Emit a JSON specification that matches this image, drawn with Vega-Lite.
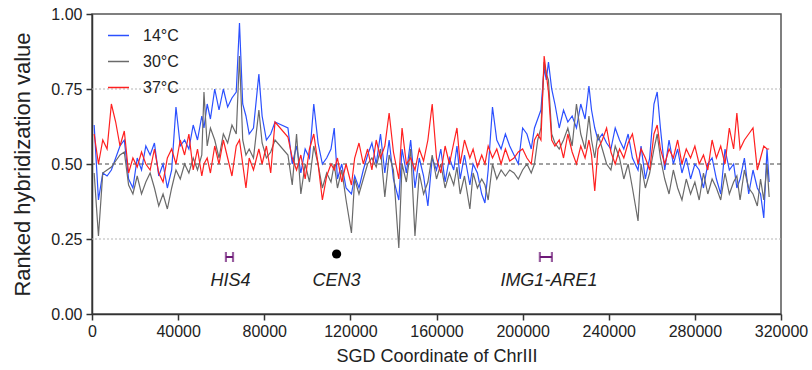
{
  "$schema": "https://vega.github.io/schema/vega-lite/v6.json",
  "width": 689,
  "height": 300,
  "autosize": {"type": "none"},
  "padding": {"left": 92, "top": 14, "right": 31, "bottom": 56},
  "background": "white",
  "config": {
    "view": {"stroke": "#555", "strokeWidth": 1.5},
    "font": "Liberation Sans",
    "axis": {
      "grid": false,
      "domainColor": "#333", "domainWidth": 1.5,
      "tickColor": "#333", "tickWidth": 1.5, "tickSize": 6,
      "labelColor": "#222", "labelFont": "Liberation Sans", "labelFontSize": 16,
      "titleColor": "#222", "titleFont": "Liberation Sans", "titleFontWeight": "normal"
    }
  },
  "datasets": {
    "signal": [
      {"pos":1000,"c14":0.63,"c30":0.47,"c37":0.60},
      {"pos":3000,"c14":0.38,"c30":0.26,"c37":0.50},
      {"pos":5000,"c14":0.47,"c30":0.47,"c37":0.58},
      {"pos":7000,"c14":0.46,"c30":0.48,"c37":0.55},
      {"pos":9000,"c14":0.48,"c30":0.49,"c37":0.70},
      {"pos":11000,"c14":0.52,"c30":0.51,"c37":0.64},
      {"pos":13000,"c14":0.56,"c30":0.53,"c37":0.56},
      {"pos":15000,"c14":0.58,"c30":0.54,"c37":0.61},
      {"pos":17000,"c14":0.45,"c30":0.43,"c37":0.47},
      {"pos":19000,"c14":0.42,"c30":0.40,"c37":0.52},
      {"pos":21000,"c14":0.52,"c30":0.46,"c37":0.49},
      {"pos":23000,"c14":0.48,"c30":0.40,"c37":0.54},
      {"pos":25000,"c14":0.56,"c30":0.44,"c37":0.50},
      {"pos":27000,"c14":0.53,"c30":0.47,"c37":0.48},
      {"pos":29000,"c14":0.57,"c30":0.42,"c37":0.55},
      {"pos":31000,"c14":0.46,"c30":0.36,"c37":0.47},
      {"pos":33000,"c14":0.50,"c30":0.40,"c37":0.44},
      {"pos":35000,"c14":0.42,"c30":0.35,"c37":0.52},
      {"pos":37000,"c14":0.48,"c30":0.42,"c37":0.55},
      {"pos":39000,"c14":0.69,"c30":0.48,"c37":0.50},
      {"pos":41000,"c14":0.56,"c30":0.45,"c37":0.58},
      {"pos":43000,"c14":0.58,"c30":0.50,"c37":0.53},
      {"pos":45000,"c14":0.55,"c30":0.47,"c37":0.60},
      {"pos":47000,"c14":0.63,"c30":0.52,"c37":0.48},
      {"pos":49000,"c14":0.58,"c30":0.48,"c37":0.55},
      {"pos":51000,"c14":0.66,"c30":0.53,"c37":0.46},
      {"pos":52000,"c14":0.62,"c30":0.74,"c37":0.50},
      {"pos":53500,"c14":0.70,"c30":0.56,"c37":0.52},
      {"pos":55000,"c14":0.65,"c30":0.62,"c37":0.47},
      {"pos":57000,"c14":0.75,"c30":0.58,"c37":0.56},
      {"pos":59000,"c14":0.68,"c30":0.52,"c37":0.50},
      {"pos":61000,"c14":0.75,"c30":0.60,"c37":0.58},
      {"pos":63000,"c14":0.69,"c30":0.57,"c37":0.52},
      {"pos":65000,"c14":0.72,"c30":0.63,"c37":0.46},
      {"pos":67000,"c14":0.74,"c30":0.60,"c37":0.56},
      {"pos":68500,"c14":0.97,"c30":0.86,"c37":0.58},
      {"pos":70000,"c14":0.70,"c30":0.58,"c37":0.50},
      {"pos":71500,"c14":0.66,"c30":0.53,"c37":0.42},
      {"pos":73000,"c14":0.60,"c30":0.55,"c37":0.52},
      {"pos":75000,"c14":0.62,"c30":0.52,"c37":0.48},
      {"pos":77500,"c14":0.80,"c30":0.68,"c37":0.55},
      {"pos":79000,"c14":0.66,"c30":0.57,"c37":0.50},
      {"pos":81000,"c14":0.58,"c30":0.52,"c37":0.56},
      {"pos":83000,"c14":0.60,"c30":0.54,"c37":0.47},
      {"pos":85000,"c14":0.64,"c30":0.58,"c37":0.64},
      {"pos":91000,"c14":0.62,"c30":0.53,"c37":0.59},
      {"pos":93000,"c14":0.50,"c30":0.43,"c37":0.52},
      {"pos":95000,"c14":0.56,"c30":0.60,"c37":0.48},
      {"pos":97000,"c14":0.47,"c30":0.40,"c37":0.53},
      {"pos":99000,"c14":0.55,"c30":0.50,"c37":0.45},
      {"pos":101000,"c14":0.52,"c30":0.44,"c37":0.55},
      {"pos":103000,"c14":0.70,"c30":0.56,"c37":0.60},
      {"pos":105000,"c14":0.57,"c30":0.50,"c37":0.50},
      {"pos":107000,"c14":0.50,"c30":0.42,"c37":0.38},
      {"pos":109000,"c14":0.52,"c30":0.47,"c37":0.46},
      {"pos":111000,"c14":0.55,"c30":0.44,"c37":0.50},
      {"pos":112500,"c14":0.62,"c30":0.50,"c37":0.48},
      {"pos":114000,"c14":0.45,"c30":0.42,"c37":0.52},
      {"pos":116000,"c14":0.50,"c30":0.48,"c37":0.44},
      {"pos":118000,"c14":0.42,"c30":0.38,"c37":0.50},
      {"pos":120500,"c14":0.40,"c30":0.27,"c37":0.43},
      {"pos":122000,"c14":0.46,"c30":0.45,"c37":0.52},
      {"pos":124000,"c14":0.42,"c30":0.40,"c37":0.57},
      {"pos":126000,"c14":0.48,"c30":0.45,"c37":0.50},
      {"pos":128000,"c14":0.53,"c30":0.50,"c37":0.55},
      {"pos":130000,"c14":0.57,"c30":0.52,"c37":0.48},
      {"pos":132000,"c14":0.50,"c30":0.49,"c37":0.58},
      {"pos":134000,"c14":0.60,"c30":0.55,"c37":0.52},
      {"pos":136000,"c14":0.47,"c30":0.39,"c37":0.56},
      {"pos":138000,"c14":0.58,"c30":0.53,"c37":0.67},
      {"pos":140000,"c14":0.45,"c30":0.48,"c37":0.54},
      {"pos":142500,"c14":0.38,"c30":0.22,"c37":0.45},
      {"pos":144000,"c14":0.55,"c30":0.50,"c37":0.62},
      {"pos":146000,"c14":0.47,"c30":0.44,"c37":0.50},
      {"pos":148000,"c14":0.58,"c30":0.55,"c37":0.52},
      {"pos":150000,"c14":0.42,"c30":0.26,"c37":0.48},
      {"pos":152000,"c14":0.52,"c30":0.47,"c37":0.55},
      {"pos":154000,"c14":0.46,"c30":0.40,"c37":0.51},
      {"pos":156000,"c14":0.36,"c30":0.44,"c37":0.58},
      {"pos":158000,"c14":0.52,"c30":0.53,"c37":0.70},
      {"pos":160000,"c14":0.48,"c30":0.45,"c37":0.52},
      {"pos":162000,"c14":0.55,"c30":0.50,"c37":0.47},
      {"pos":164000,"c14":0.44,"c30":0.42,"c37":0.56},
      {"pos":166000,"c14":0.52,"c30":0.47,"c37":0.50},
      {"pos":168000,"c14":0.48,"c30":0.43,"c37":0.57},
      {"pos":169500,"c14":0.56,"c30":0.49,"c37":0.62},
      {"pos":171000,"c14":0.45,"c30":0.40,"c37":0.50},
      {"pos":173000,"c14":0.53,"c30":0.46,"c37":0.58},
      {"pos":175500,"c14":0.43,"c30":0.35,"c37":0.52},
      {"pos":177000,"c14":0.50,"c30":0.47,"c37":0.55},
      {"pos":179000,"c14":0.47,"c30":0.42,"c37":0.49},
      {"pos":181000,"c14":0.40,"c30":0.45,"c37":0.53},
      {"pos":182500,"c14":0.37,"c30":0.43,"c37":0.50},
      {"pos":184000,"c14":0.48,"c30":0.38,"c37":0.56},
      {"pos":186000,"c14":0.69,"c30":0.50,"c37":0.52},
      {"pos":188000,"c14":0.58,"c30":0.45,"c37":0.55},
      {"pos":190000,"c14":0.55,"c30":0.48,"c37":0.50},
      {"pos":192000,"c14":0.60,"c30":0.46,"c37":0.55},
      {"pos":194000,"c14":0.56,"c30":0.48,"c37":0.51},
      {"pos":196000,"c14":0.53,"c30":0.47,"c37":0.52},
      {"pos":198000,"c14":0.50,"c30":0.45,"c37":0.54},
      {"pos":200000,"c14":0.62,"c30":0.48,"c37":0.55},
      {"pos":202000,"c14":0.60,"c30":0.50,"c37":0.52},
      {"pos":204000,"c14":0.55,"c30":0.47,"c37":0.50},
      {"pos":205500,"c14":0.62,"c30":0.50,"c37":0.58},
      {"pos":207000,"c14":0.65,"c30":0.58,"c37":0.60},
      {"pos":208500,"c14":0.68,"c30":0.62,"c37":0.58},
      {"pos":210000,"c14":0.82,"c30":0.84,"c37":0.86},
      {"pos":211000,"c14":0.78,"c30":0.80,"c37":0.80},
      {"pos":212000,"c14":0.84,"c30":0.78,"c37":0.74},
      {"pos":213500,"c14":0.75,"c30":0.60,"c37":0.58},
      {"pos":215000,"c14":0.70,"c30":0.57,"c37":0.56},
      {"pos":217000,"c14":0.62,"c30":0.55,"c37":0.58},
      {"pos":219000,"c14":0.68,"c30":0.58,"c37":0.52},
      {"pos":221000,"c14":0.64,"c30":0.62,"c37":0.60},
      {"pos":223000,"c14":0.66,"c30":0.56,"c37":0.54},
      {"pos":225000,"c14":0.62,"c30":0.70,"c37":0.50},
      {"pos":227000,"c14":0.70,"c30":0.60,"c37":0.56},
      {"pos":229000,"c14":0.65,"c30":0.55,"c37":0.52},
      {"pos":230800,"c14":0.76,"c30":0.66,"c37":0.58},
      {"pos":232000,"c14":0.68,"c30":0.58,"c37":0.53},
      {"pos":233500,"c14":0.62,"c30":0.52,"c37":0.41},
      {"pos":235000,"c14":0.58,"c30":0.60,"c37":0.55},
      {"pos":237000,"c14":0.60,"c30":0.55,"c37":0.58},
      {"pos":239000,"c14":0.57,"c30":0.50,"c37":0.62},
      {"pos":241000,"c14":0.55,"c30":0.48,"c37":0.54},
      {"pos":243000,"c14":0.62,"c30":0.56,"c37":0.50},
      {"pos":245000,"c14":0.58,"c30":0.52,"c37":0.55},
      {"pos":247000,"c14":0.55,"c30":0.45,"c37":0.52},
      {"pos":249000,"c14":0.60,"c30":0.50,"c37":0.57},
      {"pos":251000,"c14":0.52,"c30":0.42,"c37":0.60},
      {"pos":253600,"c14":0.48,"c30":0.31,"c37":0.50},
      {"pos":255000,"c14":0.56,"c30":0.50,"c37":0.55},
      {"pos":257000,"c14":0.45,"c30":0.42,"c37":0.52},
      {"pos":259000,"c14":0.52,"c30":0.47,"c37":0.48},
      {"pos":261000,"c14":0.70,"c30":0.55,"c37":0.60},
      {"pos":262500,"c14":0.74,"c30":0.60,"c37":0.63},
      {"pos":264000,"c14":0.62,"c30":0.52,"c37":0.55},
      {"pos":266000,"c14":0.48,"c30":0.45,"c37":0.50},
      {"pos":268000,"c14":0.58,"c30":0.40,"c37":0.55},
      {"pos":270000,"c14":0.50,"c30":0.48,"c37":0.52},
      {"pos":272000,"c14":0.55,"c30":0.42,"c37":0.58},
      {"pos":274000,"c14":0.47,"c30":0.38,"c37":0.50},
      {"pos":276000,"c14":0.52,"c30":0.45,"c37":0.55},
      {"pos":278000,"c14":0.45,"c30":0.40,"c37":0.52},
      {"pos":280000,"c14":0.50,"c30":0.44,"c37":0.56},
      {"pos":282000,"c14":0.48,"c30":0.38,"c37":0.50},
      {"pos":284000,"c14":0.42,"c30":0.47,"c37":0.53},
      {"pos":286000,"c14":0.50,"c30":0.40,"c37":0.48},
      {"pos":288000,"c14":0.52,"c30":0.45,"c37":0.58},
      {"pos":290000,"c14":0.45,"c30":0.42,"c37":0.52},
      {"pos":292000,"c14":0.40,"c30":0.38,"c37":0.56},
      {"pos":294000,"c14":0.55,"c30":0.47,"c37":0.50},
      {"pos":296000,"c14":0.48,"c30":0.40,"c37":0.62},
      {"pos":298000,"c14":0.50,"c30":0.44,"c37":0.55},
      {"pos":299500,"c14":0.42,"c30":0.46,"c37":0.67},
      {"pos":301000,"c14":0.45,"c30":0.38,"c37":0.55},
      {"pos":303000,"c14":0.52,"c30":0.48,"c37":0.58},
      {"pos":305000,"c14":0.40,"c30":0.42,"c37":0.60},
      {"pos":307000,"c14":0.48,"c30":0.40,"c37":0.62},
      {"pos":309000,"c14":0.42,"c30":0.36,"c37":0.48},
      {"pos":310500,"c14":0.40,"c30":0.45,"c37":0.52},
      {"pos":312000,"c14":0.32,"c30":0.38,"c37":0.56},
      {"pos":313500,"c14":0.55,"c30":0.50,"c37":0.55},
      {"pos":314500,"c14":0.44,"c30":0.39,"c37":0.55}
    ],
    "loci": [
      {"name":"HIS4","start":62200,"end":65500,"mark":0.19,"label":0.11,"center":64300},
      {"name":"IMG1-ARE1","start":208000,"end":213600,"mark":0.19,"label":0.11,"center":212200}
    ],
    "centromere": [
      {"name":"CEN3","pos":113600,"mark":0.2,"label":0.11}
    ],
    "guides": [
      {"level":0.25},{"level":0.75}
    ],
    "mid": [{"level":0.5}]
  },
  "layer": [
    {
      "data": {"name": "guides"},
      "mark": {"type": "rule", "color": "#b5b5b5", "strokeWidth": 1, "strokeDash": [2, 2]},
      "encoding": {"y": {"field": "level", "type": "quantitative", "title": "Ranked hybridization value"}}
    },
    {
      "data": {"name": "mid"},
      "mark": {"type": "rule", "color": "#444", "strokeWidth": 1, "strokeDash": [4, 3]},
      "encoding": {"y": {"field": "level", "type": "quantitative", "title": "Ranked hybridization value"}}
    },
    {
      "data": {"name": "signal"},
      "transform": [{"fold": ["c14", "c30", "c37"], "as": ["series", "value"]}],
      "mark": {"type": "line", "strokeWidth": 1.2},
      "encoding": {
        "x": {
          "field": "pos", "type": "quantitative", "title": "SGD Coordinate of ChrIII",
          "scale": {"domain": [0, 320000], "nice": false},
          "axis": {
            "titleFontSize": 18, "titlePadding": 8,
            "values": [0, 40000, 80000, 120000, 160000, 200000, 240000, 280000, 320000],
            "format": "d", "labelFlush": false, "labelPadding": 3
          }
        },
        "y": {
          "field": "value", "type": "quantitative", "title": "Ranked hybridization value",
          "scale": {"domain": [0, 1], "nice": false},
          "axis": {
            "titleFontSize": 22, "titlePadding": 16,
            "values": [0, 0.25, 0.5, 0.75, 1], "format": ".2f", "labelPadding": 4
          }
        },
        "color": {
          "field": "series", "type": "nominal",
          "scale": {"domain": ["c14", "c30", "c37"], "range": ["#2b50ff", "#6a6a6a", "#ff2020"]},
          "legend": {
            "title": null, "orient": "none", "legendX": 15, "legendY": 10,
            "symbolType": "stroke", "symbolSize": 441, "symbolStrokeWidth": 1.5,
            "labelFontSize": 16, "labelColor": "#222", "labelOffset": 13, "rowPadding": 6, "padding": 0,
            "labelExpr": "{'c14':'14°C','c30':'30°C','c37':'37°C'}[datum.label]"
          }
        }
      }
    },
    {
      "data": {"name": "loci"},
      "mark": {"type": "rule", "color": "#6e1a78", "strokeWidth": 2},
      "encoding": {
        "x": {"field": "start", "type": "quantitative", "title": "SGD Coordinate of ChrIII"},
        "x2": {"field": "end"},
        "y": {"field": "mark", "type": "quantitative", "title": "Ranked hybridization value"}
      }
    },
    {
      "data": {"name": "loci"},
      "mark": {"type": "tick", "orient": "vertical", "color": "#6e1a78", "size": 10, "thickness": 2.2},
      "encoding": {
        "x": {"field": "start", "type": "quantitative", "title": "SGD Coordinate of ChrIII"},
        "y": {"field": "mark", "type": "quantitative", "title": "Ranked hybridization value"}
      }
    },
    {
      "data": {"name": "loci"},
      "mark": {"type": "tick", "orient": "vertical", "color": "#6e1a78", "size": 10, "thickness": 2.2},
      "encoding": {
        "x": {"field": "end", "type": "quantitative", "title": "SGD Coordinate of ChrIII"},
        "y": {"field": "mark", "type": "quantitative", "title": "Ranked hybridization value"}
      }
    },
    {
      "data": {"name": "loci"},
      "mark": {"type": "text", "font": "Liberation Sans", "fontStyle": "italic", "fontSize": 18, "color": "#222", "baseline": "middle", "align": "center"},
      "encoding": {
        "x": {"field": "center", "type": "quantitative", "title": "SGD Coordinate of ChrIII"},
        "y": {"field": "label", "type": "quantitative", "title": "Ranked hybridization value"},
        "text": {"field": "name"}
      }
    },
    {
      "data": {"name": "centromere"},
      "mark": {"type": "point", "filled": true, "color": "black", "size": 85, "opacity": 1},
      "encoding": {
        "x": {"field": "pos", "type": "quantitative", "title": "SGD Coordinate of ChrIII"},
        "y": {"field": "mark", "type": "quantitative", "title": "Ranked hybridization value"}
      }
    },
    {
      "data": {"name": "centromere"},
      "mark": {"type": "text", "font": "Liberation Sans", "fontStyle": "italic", "fontSize": 18, "color": "#222", "baseline": "middle", "align": "center"},
      "encoding": {
        "x": {"field": "pos", "type": "quantitative", "title": "SGD Coordinate of ChrIII"},
        "y": {"field": "label", "type": "quantitative", "title": "Ranked hybridization value"},
        "text": {"field": "name"}
      }
    }
  ]
}
